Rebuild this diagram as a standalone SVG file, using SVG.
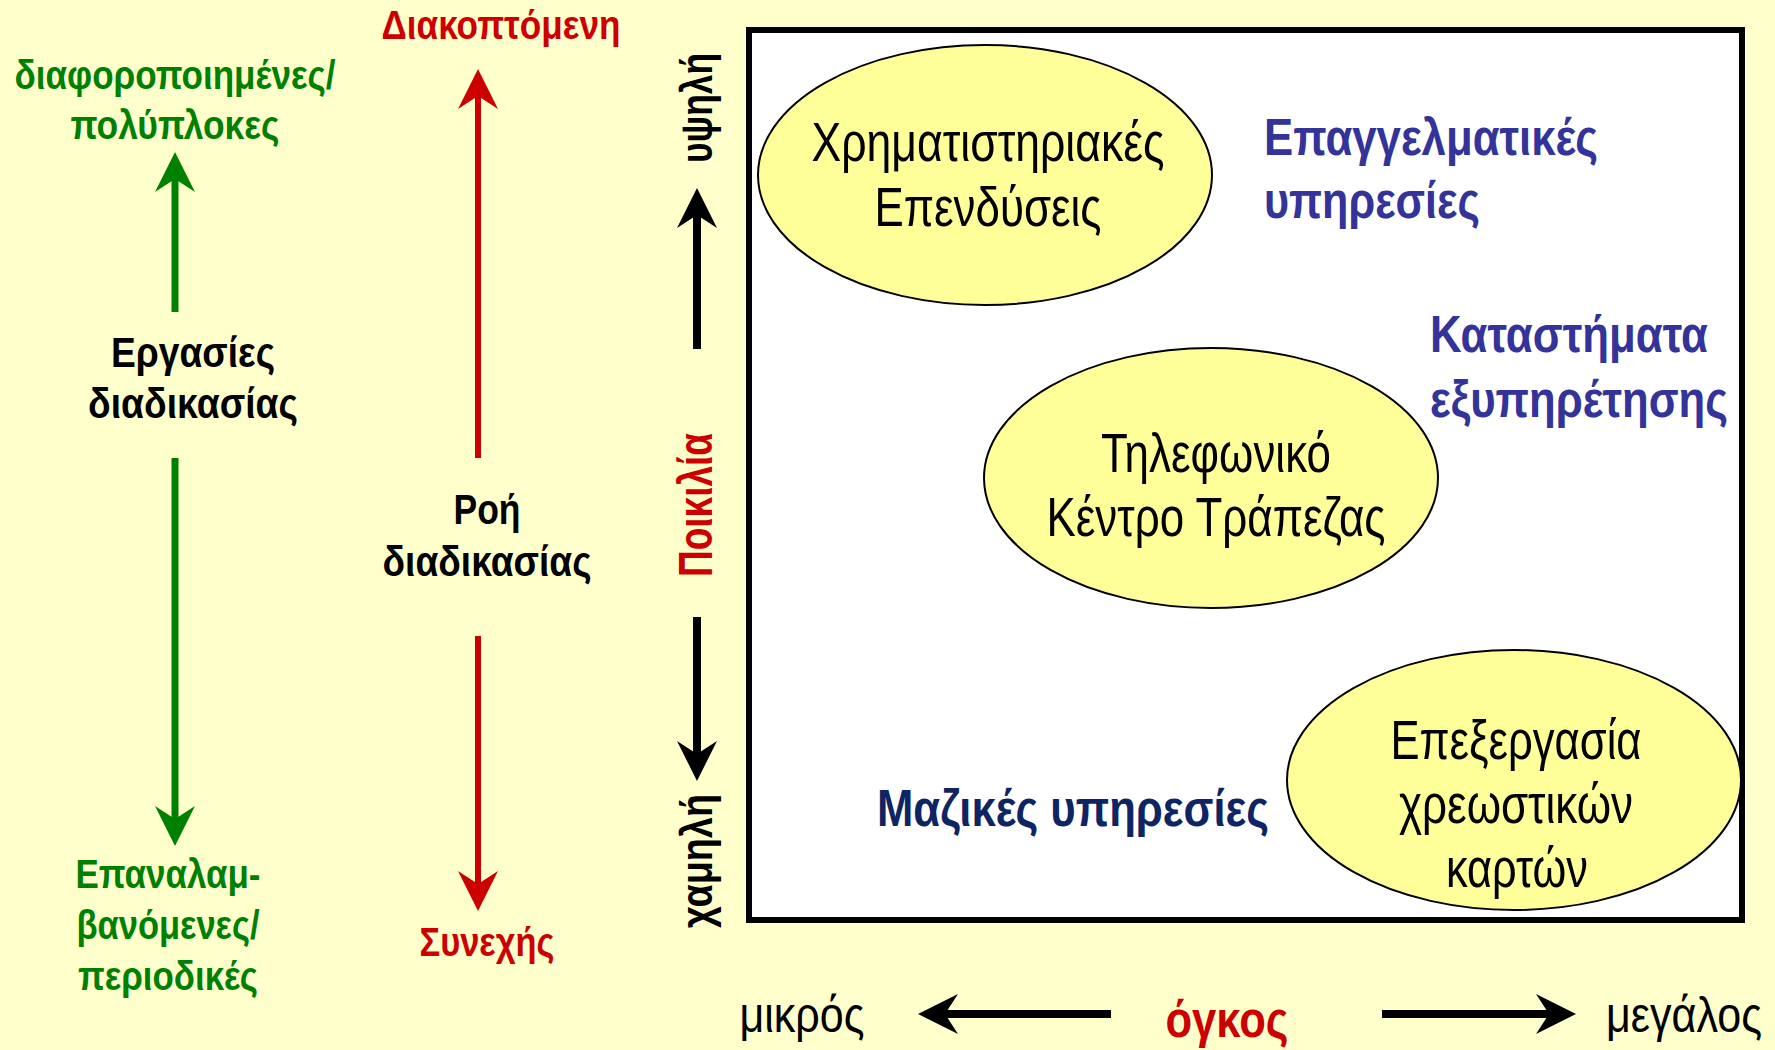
<svg xmlns="http://www.w3.org/2000/svg" width="1775" height="1050" viewBox="0 0 1775 1050">
<defs>
<style>
text{font-family:"Liberation Sans Narrow","Liberation Sans",Arial,sans-serif}
.b{font-weight:bold}
.g{fill:#008000}
.r{fill:#CC0000}
.k{fill:#000000}
.bl{fill:#333399}
.nv{fill:#0F2463}
.c{text-anchor:middle}
.node ellipse{fill:#FFFF99;stroke:#000;stroke-width:2}
.et{font-size:56px;fill:#000;text-anchor:middle}
.gl{stroke:#008000;stroke-width:7;fill:none}
.rl{stroke:#CC0000;stroke-width:6;fill:none}
.kl{stroke:#000;stroke-width:8;fill:none}
</style>
<marker id="ag" markerUnits="userSpaceOnUse" markerWidth="40" markerHeight="40" viewBox="0 0 40 40" refX="13" refY="20" orient="auto"><path d="M0,0 L40,20 L0,40 L13,20 Z" fill="#008000"/></marker>
<marker id="ar" markerUnits="userSpaceOnUse" markerWidth="40" markerHeight="40" viewBox="0 0 40 40" refX="13" refY="20" orient="auto"><path d="M0,0 L40,20 L0,40 L13,20 Z" fill="#CC0000"/></marker>
<marker id="ak" markerUnits="userSpaceOnUse" markerWidth="40" markerHeight="40" viewBox="0 0 40 40" refX="13" refY="20" orient="auto"><path d="M0,0 L40,20 L0,40 L13,20 Z" fill="#000"/></marker>
</defs>
<rect x="0" y="0" width="1775" height="1050" fill="#FFFFCC"/>
<rect id="frame" x="749" y="30" width="993" height="890" fill="#FFFFFF" stroke="#000" stroke-width="6"/>

<g id="connectors">
<line class="gl" x1="175" y1="312" x2="175" y2="179" marker-end="url(#ag)"/>
<line class="gl" x1="175" y1="458" x2="175" y2="819" marker-end="url(#ag)"/>
<line class="rl" x1="478" y1="458" x2="478" y2="96" marker-end="url(#ar)"/>
<line class="rl" x1="478" y1="636" x2="478" y2="884" marker-end="url(#ar)"/>
<line class="kl" x1="697" y1="349" x2="697" y2="215" marker-end="url(#ak)"/>
<line class="kl" x1="697" y1="617" x2="697" y2="754" marker-end="url(#ak)"/>
<line class="kl" x1="1111" y1="1014" x2="945" y2="1014" marker-end="url(#ak)"/>
<line class="kl" x1="1382" y1="1014" x2="1549" y2="1014" marker-end="url(#ak)"/>
</g>

<g id="labels-left">
<text class="b g c" x="175" y="89" font-size="40" textLength="321" lengthAdjust="spacingAndGlyphs">διαφοροποιημένες/</text>
<text class="b g c" x="175" y="139" font-size="40" textLength="209" lengthAdjust="spacingAndGlyphs">πολύπλοκες</text>
<text class="b k c" x="193" y="367" font-size="42" textLength="164" lengthAdjust="spacingAndGlyphs">Εργασίες</text>
<text class="b k c" x="193" y="418" font-size="42" textLength="210" lengthAdjust="spacingAndGlyphs">διαδικασίας</text>
<text class="b g c" x="168" y="888" font-size="40" textLength="185" lengthAdjust="spacingAndGlyphs">Επαναλαμ-</text>
<text class="b g c" x="168" y="939" font-size="40" textLength="183" lengthAdjust="spacingAndGlyphs">βανόμενες/</text>
<text class="b g c" x="168" y="990" font-size="40" textLength="180" lengthAdjust="spacingAndGlyphs">περιοδικές</text>
</g>

<g id="labels-middle">
<text class="b r c" x="501" y="39" font-size="40" textLength="239" lengthAdjust="spacingAndGlyphs">Διακοπτόμενη</text>
<text class="b k c" x="487" y="524" font-size="42" textLength="67" lengthAdjust="spacingAndGlyphs">Ροή</text>
<text class="b k c" x="487" y="576" font-size="42" textLength="209" lengthAdjust="spacingAndGlyphs">διαδικασίας</text>
<text class="b r c" x="487" y="956" font-size="40" textLength="135" lengthAdjust="spacingAndGlyphs">Συνεχής</text>
</g>

<g id="axis-vertical">
<text class="b k c" transform="translate(712,108) rotate(-90)" x="0" y="0" font-size="44" textLength="110" lengthAdjust="spacingAndGlyphs">υψηλή</text>
<text class="b r c" transform="translate(712,505) rotate(-90)" x="0" y="0" font-size="48" textLength="144" lengthAdjust="spacingAndGlyphs">Ποικιλία</text>
<text class="b k c" transform="translate(712,861) rotate(-90)" x="0" y="0" font-size="44" textLength="134" lengthAdjust="spacingAndGlyphs">χαμηλή</text>
</g>

<g id="axis-horizontal">
<text class="k c" x="802" y="1032" font-size="50" textLength="125" lengthAdjust="spacingAndGlyphs">μικρός</text>
<text class="b r c" x="1227" y="1037" font-size="52" textLength="123" lengthAdjust="spacingAndGlyphs">όγκος</text>
<text class="k c" x="1684" y="1032" font-size="50" textLength="156" lengthAdjust="spacingAndGlyphs">μεγάλος</text>
</g>

<g id="node-xrimatistiriakes" class="node">
<ellipse cx="985" cy="175" rx="227" ry="130"/>
<text class="et" x="988" y="161" textLength="353" lengthAdjust="spacingAndGlyphs">Χρηματιστηριακές</text>
<text class="et" x="988" y="226" textLength="227" lengthAdjust="spacingAndGlyphs">Επενδύσεις</text>
</g>

<g id="node-tilefoniko" class="node">
<ellipse cx="1211" cy="478" rx="227" ry="130"/>
<text class="et" x="1216" y="472" textLength="230" lengthAdjust="spacingAndGlyphs">Τηλεφωνικό</text>
<text class="et" x="1216" y="536" textLength="339" lengthAdjust="spacingAndGlyphs">Κέντρο Τράπεζας</text>
</g>

<g id="node-epexergasia" class="node">
<ellipse cx="1514" cy="780" rx="227" ry="130"/>
<text class="et" x="1516" y="759" textLength="251" lengthAdjust="spacingAndGlyphs">Επεξεργασία</text>
<text class="et" x="1516" y="823" textLength="234" lengthAdjust="spacingAndGlyphs">χρεωστικών</text>
<text class="et" x="1517" y="887" textLength="142" lengthAdjust="spacingAndGlyphs">καρτών</text>
</g>

<g id="label-epaggelmatikes">
<text class="b bl" x="1264" y="155" font-size="52" textLength="334" lengthAdjust="spacingAndGlyphs">Επαγγελματικές</text>
<text class="b bl" x="1264" y="218" font-size="52" textLength="216" lengthAdjust="spacingAndGlyphs">υπηρεσίες</text>
</g>
<g id="label-katastimata">
<text class="b bl" x="1430" y="352" font-size="52" textLength="278" lengthAdjust="spacingAndGlyphs">Καταστήματα</text>
<text class="b bl" x="1430" y="417" font-size="52" textLength="298" lengthAdjust="spacingAndGlyphs">εξυπηρέτησης</text>
</g>
<g id="label-mazikes">
<text class="b nv" x="877" y="826" font-size="52" textLength="392" lengthAdjust="spacingAndGlyphs">Μαζικές υπηρεσίες</text>
</g>
</svg>
